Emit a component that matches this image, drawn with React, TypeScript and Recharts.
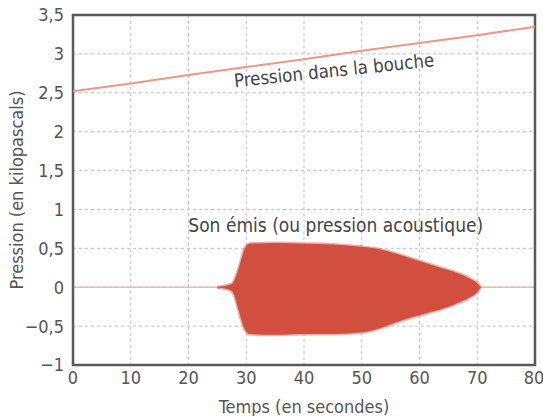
import React from 'react'
import {
  ComposedChart,
  Area,
  Line,
  XAxis,
  YAxis,
  CartesianGrid,
  ReferenceArea,
  ReferenceDot,
} from 'recharts'

// pressure in the mouth (kPa), read every 10 s
const pressureTimes = [0, 10, 20, 30, 40, 50, 60, 70, 80]
const pressureValues = [2.52, 2.62, 2.73, 2.83, 2.93, 3.04, 3.14, 3.24, 3.35]

// silent part of the sound trace (flat at zero)
const silenceTimes = [0, 80]
const silenceValues = [0, 0]

// envelope of the emitted sound (acoustic pressure)
const soundTimes = [25, 26.5, 27.5, 28, 28.5, 29, 29.5, 30, 30.5, 35, 40, 45, 50, 53, 56, 59, 62, 65, 67, 68.5, 70, 70.6]
const soundTop = [0, 0.02, 0.04, 0.1, 0.2, 0.32, 0.45, 0.53, 0.56, 0.57, 0.56, 0.55, 0.52, 0.49, 0.43, 0.36, 0.29, 0.22, 0.17, 0.12, 0.05, 0]
const soundBottom = [0, -0.02, -0.05, -0.12, -0.25, -0.38, -0.5, -0.57, -0.6, -0.61, -0.6, -0.6, -0.58, -0.53, -0.45, -0.38, -0.32, -0.25, -0.19, -0.14, -0.06, 0]

const xTicks = [0, 10, 20, 30, 40, 50, 60, 70, 80]
const yTicks = [-1, -0.5, 0, 0.5, 1, 1.5, 2, 2.5, 3, 3.5]

const FONT = '"DejaVu Sans Condensed", "DejaVu Sans", sans-serif'
const TEXT = '#555'
const RED = '#d24f40'

// one table keyed on time, the series leave gaps where they have no value
const allTimes = Array.from(new Set([...pressureTimes, ...silenceTimes, ...soundTimes])).sort((a, b) => a - b)
const data = allTimes.map(t => {
  const pi = pressureTimes.indexOf(t)
  const zi = silenceTimes.indexOf(t)
  const si = soundTimes.indexOf(t)
  return {
    t,
    pressure: pi >= 0 ? pressureValues[pi] : null,
    silence: zi >= 0 ? [silenceValues[zi], silenceValues[zi]] : null,
    sound: si >= 0 ? [soundBottom[si], soundTop[si]] : null,
  }
})

const fmt = (v: number) => (v < 0 ? '\u2212' : '') + String(Math.abs(v)).replace('.', ',')

export default function App() {
  return (
    <div style={{ position: 'fixed', left: 0, top: 0, background: '#fff' }}>
      <ComposedChart
        width={543}
        height={416}
        data={data}
        margin={{ top: 15, right: 8, bottom: 0, left: 0 }}
        style={{ fontFamily: FONT }}
      >
        <CartesianGrid stroke="#c4c4c4" strokeDasharray="3 3" />
        <XAxis
          dataKey="t"
          type="number"
          domain={[0, 80]}
          ticks={xTicks}
          height={51}
          tickSize={0}
          tickMargin={6}
          axisLine={false}
          tick={{ fontSize: 18, fill: TEXT }}
          label={{ value: 'Temps (en secondes)', position: 'insideBottom', offset: 3, fontSize: 18, fill: TEXT }}
        />
        <YAxis
          type="number"
          domain={[-1, 3.5]}
          ticks={yTicks}
          width={73}
          tickSize={0}
          tickMargin={9}
          axisLine={false}
          tickFormatter={fmt}
          tick={{ fontSize: 18, fill: TEXT }}
          label={{ value: 'Pression (en kilopascals)', angle: -90, position: 'insideLeft', offset: 17, fontSize: 18, fill: TEXT, style: { textAnchor: 'middle' } }}
        />
        <Area
          dataKey="silence"
          type="linear"
          fill="none"
          stroke="#f0b2a2"
          strokeWidth={1}
          connectNulls
          isAnimationActive={false}
          dot={false}
          activeDot={false}
        />
        <Area
          dataKey="sound"
          type="monotone"
          fill={RED}
          fillOpacity={1}
          stroke={RED}
          strokeOpacity={0.45}
          strokeWidth={3}
          connectNulls
          isAnimationActive={false}
          dot={false}
          activeDot={false}
        />
        <Line
          dataKey="pressure"
          type="linear"
          stroke="#e69a88"
          strokeWidth={2}
          dot={false}
          connectNulls
          isAnimationActive={false}
        />
        <ReferenceDot
          x={45.2}
          y={2.79}
          r={0}
          label={{ value: 'Pression dans la bouche', position: 'center', angle: -6, fontSize: 18.5, fill: '#444' }}
        />
        <ReferenceDot
          x={45.5}
          y={0.8}
          r={0}
          label={{ value: 'Son émis (ou pression acoustique)', position: 'center', fontSize: 19, fill: '#444' }}
        />
        <ReferenceArea x1={0} x2={80} y1={-1} y2={3.5} fill="none" stroke="#5a5a5a" strokeWidth={2.5} />
      </ComposedChart>
    </div>
  )
}
